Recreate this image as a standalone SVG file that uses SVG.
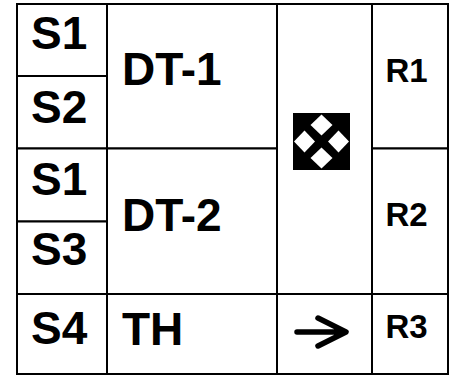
<svg xmlns="http://www.w3.org/2000/svg" width="456" height="376" viewBox="0 0 456 376">
<style>
.cell{fill:#fff;stroke:#000;stroke-width:2}
.big{font-family:"Liberation Sans",Arial,sans-serif;font-weight:bold;font-size:46px;fill:#000}
.r{font-family:"Liberation Sans",Arial,sans-serif;font-weight:bold;font-size:33px;fill:#000}
</style>
<rect x="0" y="0" width="456" height="376" fill="#fff"/>
<g id="cell-s1a"><rect class="cell" x="17" y="4" width="90" height="72"/><text class="big" x="31" y="49">S1</text></g>
<g id="cell-s2"><rect class="cell" x="17" y="76" width="90" height="72.5"/><text class="big" x="31" y="123">S2</text></g>
<g id="cell-s1b"><rect class="cell" x="17" y="148.5" width="90" height="73"/><text class="big" x="31" y="195">S1</text></g>
<g id="cell-s3"><rect class="cell" x="17" y="221.5" width="90" height="72.5"/><text class="big" x="31" y="265">S3</text></g>
<g id="cell-s4"><rect class="cell" x="17" y="294" width="90" height="80"/><text class="big" x="31" y="344">S4</text></g>
<g id="cell-dt1"><rect class="cell" x="107" y="4" width="170" height="144.5"/><text class="big" x="122" y="85">DT-1</text></g>
<g id="cell-dt2"><rect class="cell" x="107" y="148.5" width="170" height="145.5"/><text class="big" x="122" y="231">DT-2</text></g>
<g id="cell-th"><rect class="cell" x="107" y="294" width="170" height="80"/><text class="big" x="122" y="345">TH</text></g>
<g id="cell-move"><rect class="cell" x="277" y="4" width="95" height="290"/>
<rect x="293" y="113" width="57" height="57" fill="#000"/>
<g fill="#fff">
<polygon points="321.5,114.5 332.5,125 321.5,135.5 310.5,125"/>
<polygon points="321.5,147.5 332.5,158 321.5,168.5 310.5,158"/>
<polygon points="304.5,130.5 315,141.5 304.5,152.5 294,141.5"/>
<polygon points="338.5,130.5 349,141.5 338.5,152.5 328,141.5"/>
</g></g>
<g id="cell-arrow"><rect class="cell" x="277" y="294" width="95" height="80"/>
<path d="M297,332 H345 M318,318 L346,332 L318,346" fill="none" stroke="#000" stroke-width="5.5" stroke-linecap="round" stroke-linejoin="round"/></g>
<g id="cell-r1"><rect class="cell" x="372" y="4" width="76" height="144.5"/><text class="r" x="385.5" y="82">R1</text></g>
<g id="cell-r2"><rect class="cell" x="372" y="148.5" width="76" height="145.5"/><text class="r" x="385.5" y="226">R2</text></g>
<g id="cell-r3"><rect class="cell" x="372" y="294" width="76" height="80"/><text class="r" x="385.5" y="338">R3</text></g>
<g id="connectors"></g>
</svg>
